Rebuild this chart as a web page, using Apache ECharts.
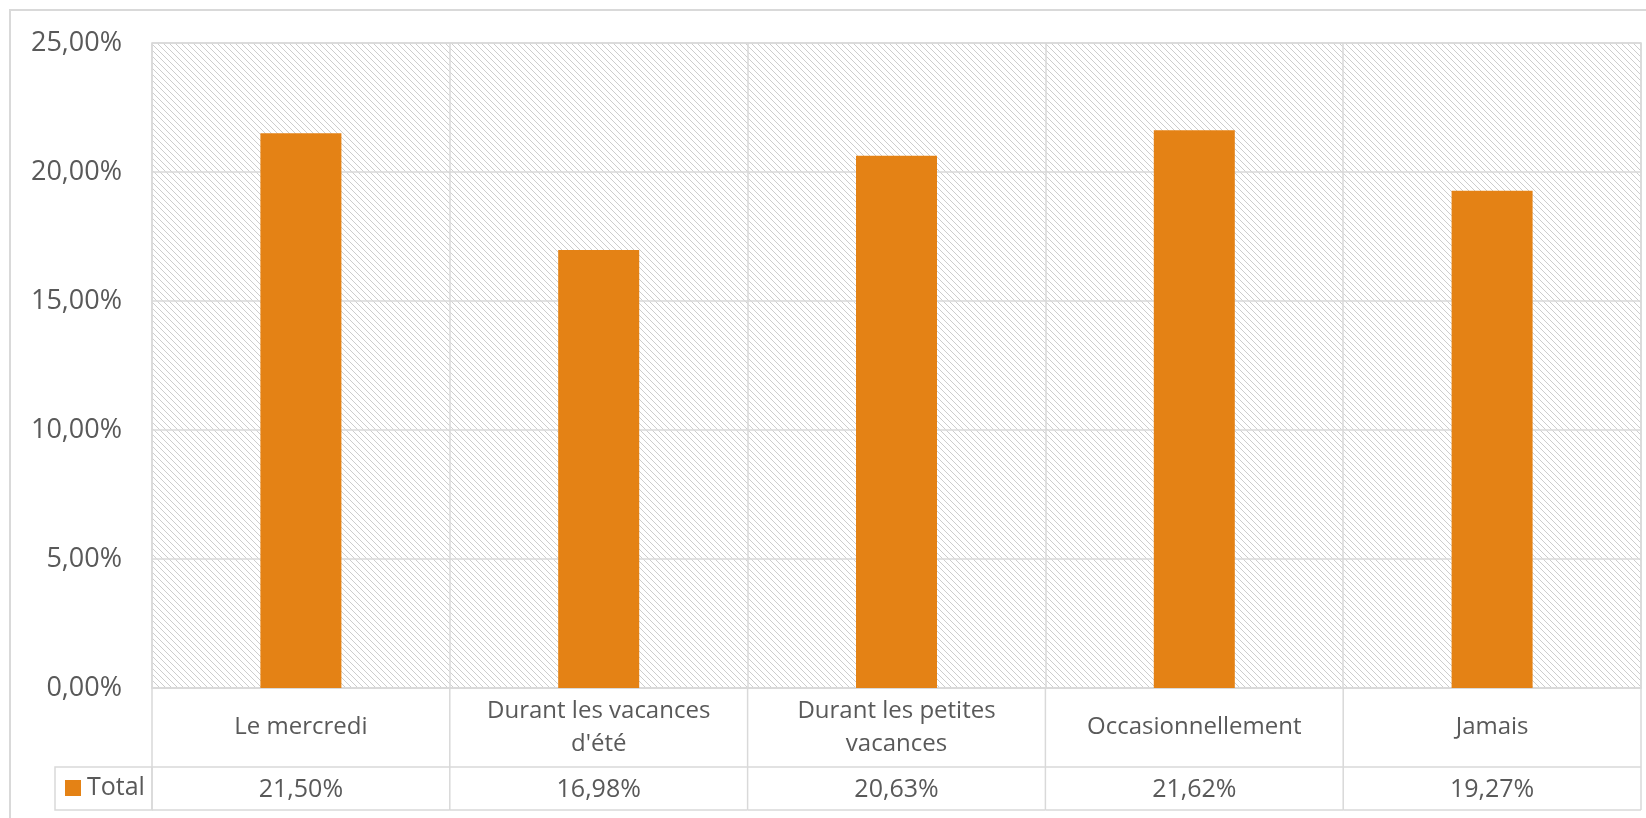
<!DOCTYPE html>
<html>
<head>
<meta charset="utf-8">
<script src="https://cdn.jsdelivr.net/npm/echarts@6/dist/echarts.min.js"></script>
<style>
html,body{margin:0;padding:0;background:#fff;}
#chart{width:1646px;height:818px;}
</style>
</head>
<body>
<div id="chart"></div>
<script>
var categories = ['Le mercredi', "Durant les vacances\nd'été", 'Durant les petites\nvacances', 'Occasionnellement', 'Jamais'];
var seriesName = 'Total';
var values = [21.50, 16.98, 20.63, 21.62, 19.27];
var yTicks = { min: 0, max: 25, interval: 5 };

var TEXT = '#595959';
var LINE = '#d9d9d9';
var FONT = '"Open Sans", "Noto Sans", sans-serif';
var ROW1 = 79, ROW2 = 43;

function fmt(v) { return v.toFixed(2).replace('.', ',') + '%'; }

// hatch pattern for plot area
var pc = document.createElement('canvas');
pc.width = 6; pc.height = 6;
var pctx = pc.getContext('2d');
pctx.fillStyle = '#ffffff';
pctx.fillRect(0, 0, 6, 6);
pctx.fillStyle = '#cdcdcd';
for (var yy = 0; yy < 6; yy++) {
  for (var xx = 0; xx < 6; xx++) {
    var d = ((xx - yy) % 6 + 6) % 6;
    if (d === 0) pctx.fillRect(xx, yy, 1, 1);
  }
}

var chart = echarts.init(document.getElementById('chart'), null, { renderer: 'canvas' });
var lineStyle = { stroke: LINE, lineWidth: 1.5 };

chart.setOption({
  animation: false,
  backgroundColor: '#ffffff',
  textStyle: { fontFamily: FONT },
  graphic: [
    { type: 'rect', shape: { x: 10, y: 10, width: 1700, height: 900 }, style: { fill: 'none', stroke: LINE, lineWidth: 2 }, z: -10, silent: true },
    { type: 'rect', shape: { x: 55, y: 767, width: 97, height: 43 }, style: { fill: 'none', stroke: LINE, lineWidth: 1.5 }, z: 5, silent: true }
  ],
  legend: {
    data: [seriesName],
    left: 65, top: 769, padding: 0,
    icon: 'rect', itemWidth: 16, itemHeight: 16, itemGap: 6,
    textStyle: { fontSize: 25, color: TEXT, fontFamily: FONT, lineHeight: 38, padding: [0, 0, 0, 1] },
    selectedMode: false
  },
  grid: {
    left: 152, right: 5, top: 43, bottom: 130,
    show: true,
    backgroundColor: { image: pc, repeat: 'repeat' },
    borderColor: LINE, borderWidth: 1.5
  },
  xAxis: {
    type: 'category',
    data: categories,
    axisLine: { show: true, lineStyle: { color: LINE, width: 1.5 } },
    axisTick: { show: false },
    splitLine: { show: true, lineStyle: { color: LINE, width: 1.5 } },
    axisLabel: {
      interval: 0, margin: 39.5, verticalAlign: 'middle',
      fontSize: 24, lineHeight: 33, color: TEXT, fontFamily: FONT
    }
  },
  yAxis: {
    type: 'value',
    min: yTicks.min, max: yTicks.max, interval: yTicks.interval,
    axisLine: { show: false },
    axisTick: { show: false },
    splitLine: { show: true, lineStyle: { color: LINE, width: 1.5 } },
    axisLabel: {
      margin: 30, fontSize: 27, color: TEXT, fontFamily: FONT,
      formatter: function (v) { return fmt(v); }
    }
  },
  series: [
    {
      name: seriesName,
      type: 'bar',
      data: values,
      barWidth: 81,
      itemStyle: { color: '#E48215' }
    },
    {
      type: 'custom',
      clip: false,
      silent: true,
      z: 5,
      data: values.map(function (v, i) { return [i, v]; }),
      renderItem: function (params, api) {
        var i = api.value(0);
        var c = api.coord([i, 0]);
        var w = api.size([1, 0])[0];
        var x0 = c[0] - w / 2, y0 = c[1];
        var children = [
          { type: 'line', shape: { x1: x0 + w, y1: y0, x2: x0 + w, y2: y0 + ROW1 + ROW2 }, style: lineStyle },
          { type: 'line', shape: { x1: x0, y1: y0 + ROW1, x2: x0 + w, y2: y0 + ROW1 }, style: lineStyle },
          { type: 'line', shape: { x1: x0, y1: y0 + ROW1 + ROW2, x2: x0 + w, y2: y0 + ROW1 + ROW2 }, style: lineStyle },
          { type: 'text', style: { text: fmt(api.value(1)), x: c[0], y: y0 + ROW1 + ROW2 / 2 + 1, align: 'center', verticalAlign: 'middle', fontSize: 25, fontFamily: FONT, fill: TEXT } }
        ];
        if (i === 0) {
          children.push({ type: 'line', shape: { x1: x0, y1: y0, x2: x0, y2: y0 + ROW1 + ROW2 }, style: lineStyle });
        }
        return { type: 'group', children: children };
      }
    }
  ]
});
</script>
</body>
</html>
